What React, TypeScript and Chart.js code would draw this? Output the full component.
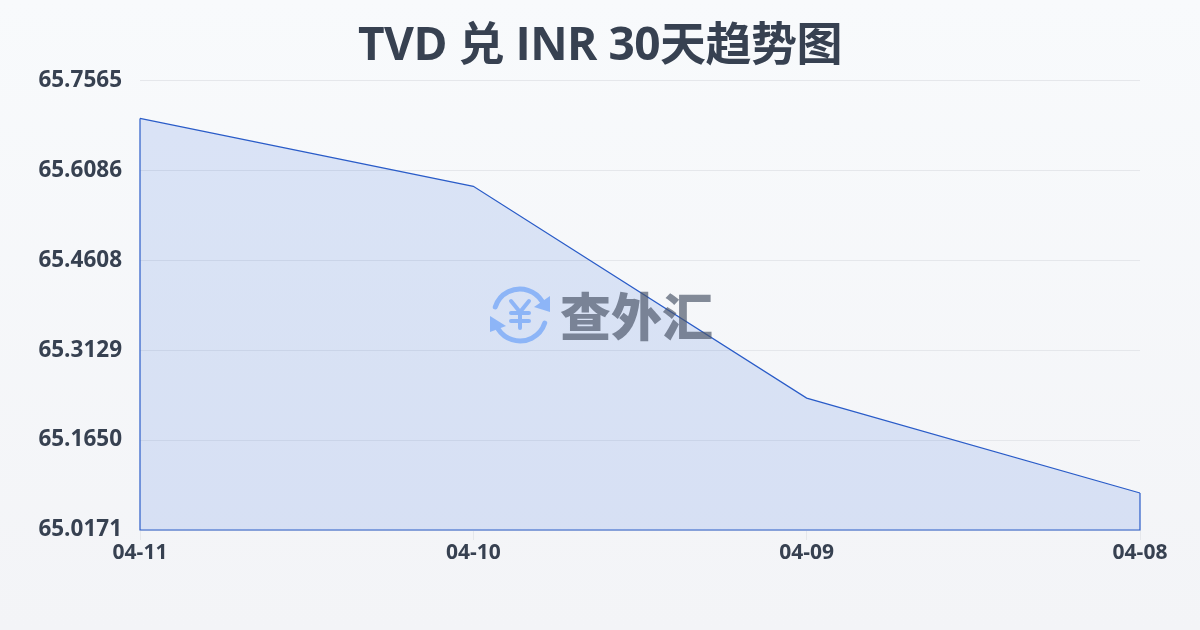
import { useEffect, useRef } from "react";
import { Chart, registerables } from "chart.js";

Chart.register(...registerables);

const TITLE = "TVD 兑 INR 30天趋势图";
const WATERMARK = "查外汇";
const categories = ["04-11", "04-10", "04-09", "04-08"];
const seriesValues = [65.694, 65.5823, 65.234, 65.078];
const yTicks = [65.7565, 65.6086, 65.4608, 65.3129, 65.165, 65.0171];
const FONT = '"Open Sans", "Noto Sans CJK SC", sans-serif';
const CJK = '"Noto Sans CJK SC", sans-serif';
const INK = "#374151";
const LINE = "#2a5cc8";

const backdrop = {
  id: "backdrop",
  beforeDraw(chart: any) {
    const { ctx, width, height } = chart;
    const g = ctx.createLinearGradient(0, 0, 0, height);
    g.addColorStop(0, "#f8fafc");
    g.addColorStop(1, "#f3f4f7");
    ctx.save();
    ctx.fillStyle = g;
    ctx.fillRect(0, 0, width, height);
    ctx.restore();
  },
};

const heading = {
  id: "heading",
  afterDraw(chart: any) {
    const { ctx, width } = chart;
    ctx.save();
    ctx.fillStyle = INK;
    ctx.font = `bold 46px ${FONT}`;
    ctx.letterSpacing = "-0.5px";
    ctx.textAlign = "center";
    ctx.textBaseline = "alphabetic";
    ctx.fillText(TITLE, width / 2, 60);
    ctx.restore();
  },
};

const outline = {
  id: "outline",
  afterDatasetsDraw(chart: any) {
    const { ctx, scales } = chart;
    const pts = chart.getDatasetMeta(0).data;
    const base = scales.y.getPixelForValue(scales.y.min);
    ctx.save();
    ctx.strokeStyle = LINE;
    ctx.lineWidth = 1.2;
    ctx.beginPath();
    ctx.moveTo(pts[0].x, pts[0].y);
    ctx.lineTo(pts[0].x, base);
    ctx.lineTo(pts[pts.length - 1].x, base);
    ctx.lineTo(pts[pts.length - 1].x, pts[pts.length - 1].y);
    ctx.stroke();
    ctx.restore();
  },
};

const watermark = {
  id: "watermark",
  afterDraw(chart: any) {
    const { ctx } = chart;
    const cx = 520, cy = 315, r = 26;
    ctx.save();
    ctx.strokeStyle = "#8db5f7";
    ctx.fillStyle = "#8db5f7";
    ctx.lineCap = "round";
    ctx.lineWidth = 5;
    ctx.beginPath();
    ctx.arc(cx, cy, r, Math.PI * 1.1, Math.PI * 1.82);
    ctx.stroke();
    ctx.beginPath();
    ctx.arc(cx, cy, r, Math.PI * 0.1, Math.PI * 0.82);
    ctx.stroke();
    ctx.beginPath();
    ctx.moveTo(550, 296); ctx.lineTo(550, 312); ctx.lineTo(534, 307);
    ctx.closePath(); ctx.fill();
    ctx.beginPath();
    ctx.moveTo(490, 316); ctx.lineTo(490, 332); ctx.lineTo(506, 326);
    ctx.closePath(); ctx.fill();
    ctx.lineWidth = 4;
    ctx.beginPath();
    ctx.moveTo(511, 301); ctx.lineTo(520, 312); ctx.lineTo(529, 301);
    ctx.moveTo(520, 312); ctx.lineTo(520, 328);
    ctx.moveTo(511, 313); ctx.lineTo(529, 313);
    ctx.moveTo(511, 321); ctx.lineTo(529, 321);
    ctx.stroke();
    ctx.fillStyle = "rgba(75,85,105,0.68)";
    ctx.font = `900 51px ${CJK}`;
    ctx.textAlign = "left";
    ctx.textBaseline = "middle";
    ctx.fillText(WATERMARK, 560, 317);
    ctx.restore();
  },
};

export default function App() {
  const ref = useRef<HTMLCanvasElement>(null);
  useEffect(() => {
    document.body.style.margin = "0";
    const chart = new Chart(ref.current!, {
      type: "line",
      data: {
        labels: categories,
        datasets: [
          {
            data: seriesValues,
            borderColor: LINE,
            borderWidth: 1.2,
            backgroundColor: "rgba(40,100,220,0.14)",
            fill: "start",
            tension: 0,
            pointRadius: 0,
          },
        ],
      },
      options: {
        responsive: false,
        animation: false,
        layout: { padding: { right: 60, left: 0, top: 80.4, bottom: 0 } },
        plugins: {
          legend: { display: false },
          tooltip: { enabled: false },
          title: { display: false },
        },
        scales: {
          x: {
            type: "category",
            offset: false,
            afterFit(s: any) { s.height = 100; },
            border: { display: false },
            grid: { drawOnChartArea: false, drawTicks: true, tickLength: 10, tickColor: "#e5e7eb" },
            ticks: {
              color: INK,
              font: { family: FONT, size: 21, weight: "bold" },
              maxRotation: 0,
              autoSkip: false,
              padding: 0,
            },
          },
          y: {
            type: "linear",
            min: yTicks[yTicks.length - 1],
            max: yTicks[0],
            afterFit(s: any) { s.width = 140; },
            afterBuildTicks(s: any) { s.ticks = yTicks.map((value) => ({ value })); },
            border: { display: false },
            grid: { color: "#e5e7eb", lineWidth: 1, drawTicks: false },
            ticks: {
              color: INK,
              font: { family: FONT, size: 22.5, weight: "bold" },
              padding: 18,
              callback: (v: any) => Number(v).toFixed(4),
            },
          },
        },
      },
      plugins: [backdrop, outline, watermark, heading],
    } as any);
    return () => chart.destroy();
  }, []);
  return <canvas ref={ref} width={1200} height={630} style={{ display: "block" }} />;
}
